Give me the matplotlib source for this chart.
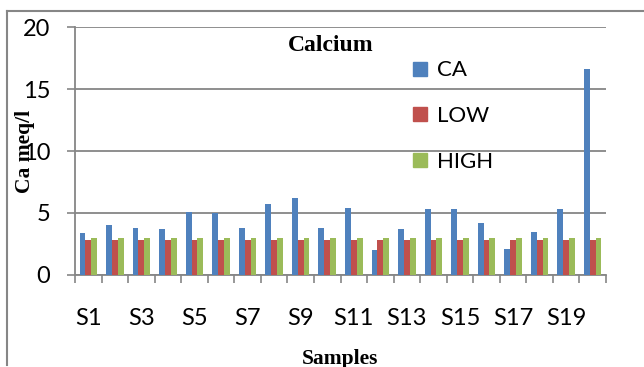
import numpy as np
import matplotlib
matplotlib.use("Agg")
import matplotlib.pyplot as plt
from matplotlib.lines import Line2D

samples = [f"S{i}" for i in range(1, 21)]
ca = [3.4, 4.0, 3.8, 3.7, 5.1, 5.0, 3.8, 5.7, 6.2, 3.8,
      5.4, 2.0, 3.7, 5.3, 5.3, 4.2, 2.1, 3.5, 5.3, 16.6]
low = [2.8] * 20
high = [3.0] * 20
y_ticks = [0, 5, 10, 15, 20]

colors = {"CA": "#4F81BD", "LOW": "#C0504D", "HIGH": "#9BBB59"}
grid_gray = "#868686"
tick_font = {"family": "Lato", "size": 17}
serif_bold = {"family": "Liberation Serif", "weight": "bold", "size": 15.5}

fig = plt.figure(figsize=(6.44, 3.67), dpi=100)
ax = fig.add_axes([0.1165, 0.2507, 0.8245, 0.6757])

x = np.arange(len(samples))
w = 0.22
ax.bar(x - w, ca, w, color=colors["CA"], zorder=3)
ax.bar(x, low, w, color=colors["LOW"], zorder=3)
ax.bar(x + w, high, w, color=colors["HIGH"], zorder=3)

ax.set_xlim(-0.5, len(samples) - 0.5)
ax.set_ylim(0, 20)
ax.set_yticks(y_ticks)
ax.set_yticklabels([str(v) for v in y_ticks], fontdict=tick_font)
ax.yaxis.grid(True, color=grid_gray, linewidth=1.3, zorder=0)
ax.tick_params(axis="y", length=6, width=1.2, color=grid_gray, pad=12)

# tick marks between categories, labels under every other category
ax.set_xticks(np.arange(len(samples) + 1) - 0.5)
ax.set_xticklabels([])
ax.tick_params(axis="x", which="major", direction="out", length=6,
               width=1.2, color=grid_gray)
ax.set_xticks(x[::2], minor=True)
ax.set_xticklabels(samples[::2], minor=True, fontdict=tick_font)
ax.tick_params(axis="x", which="minor", length=0, pad=24)

for side in ("top", "right"):
    ax.spines[side].set_visible(False)
for side in ("left", "bottom"):
    ax.spines[side].set_color(grid_gray)
    ax.spines[side].set_linewidth(1.3)

ax.set_ylabel("Ca meq/l", fontdict=serif_bold)
ax.yaxis.set_label_coords(-0.075, 0.50)
fig.text(340 / 644, -0.005, "Samples", ha="center", va="bottom", fontdict=serif_bold)
ax.text(0.481, 0.925, "Calcium", transform=ax.transAxes, ha="center", va="center",
        fontdict={**serif_bold, "size": 17})

handles = [Line2D([], [], marker="s", linestyle="", markersize=10,
                  markerfacecolor=colors[k], markeredgecolor=colors[k], label=k)
           for k in ("CA", "LOW", "HIGH")]
ax.legend(handles=handles, loc="upper left", bbox_to_anchor=(0.61, 0.91),
          frameon=False, prop={"family": "Lato", "size": 16},
          labelspacing=1.15, handletextpad=0.3, handlelength=0.9, borderpad=0)

# outer chart frame
fig.add_artist(Line2D([7 / 644, 1], [1 - 11 / 367] * 2, color=grid_gray, lw=1.5))
fig.add_artist(Line2D([7 / 644] * 2, [2 / 367, 1 - 11 / 367], color=grid_gray, lw=1.5))

fig.savefig("out.png", dpi=100)
